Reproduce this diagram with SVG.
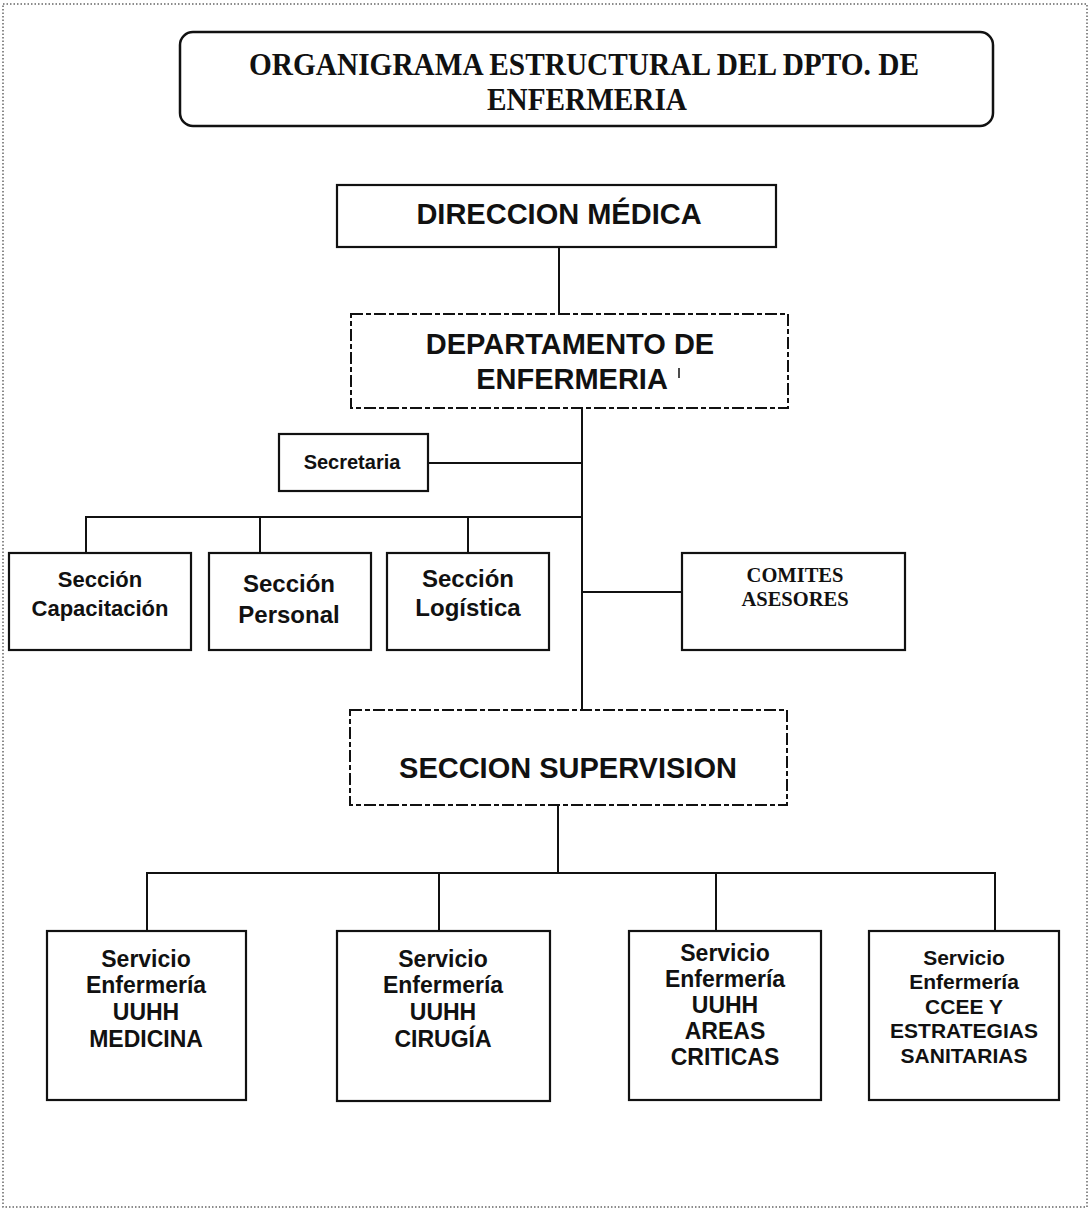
<svg xmlns="http://www.w3.org/2000/svg" width="1090" height="1212" viewBox="0 0 1090 1212">
<style>
.box{fill:#fff;stroke:#111;stroke-width:2.2}
.dbox{fill:#fff;stroke:#111;stroke-width:2;stroke-dasharray:12 3 5 3}
.conn{stroke:#111;stroke-width:2;fill:none}
.t{font-family:"Liberation Sans",Arial,sans-serif;font-weight:bold;fill:#111;text-anchor:middle}
.s{font-family:"Liberation Serif","Times New Roman",serif;font-weight:bold;fill:#111;text-anchor:middle}
</style>
<rect x="0" y="0" width="1090" height="1212" fill="#fff"/>
<rect x="3" y="4" width="1084" height="1203" fill="none" stroke="#666" stroke-width="1.5" stroke-dasharray="1.5 2"/>

<g id="title">
<rect x="180" y="32" width="813" height="94" rx="13" ry="13" fill="#fff" stroke="#111" stroke-width="2.5"/>
<text class="s" x="584" y="75" font-size="32" textLength="670" lengthAdjust="spacingAndGlyphs">ORGANIGRAMA ESTRUCTURAL  DEL DPTO. DE</text>
<text class="s" x="587" y="110" font-size="32" textLength="200" lengthAdjust="spacingAndGlyphs">ENFERMERIA</text>
</g>

<g id="connectors">
<line class="conn" x1="559" y1="247" x2="559" y2="314"/>
<line class="conn" x1="582" y1="408" x2="582" y2="710"/>
<line class="conn" x1="428" y1="463" x2="582" y2="463"/>
<polyline class="conn" points="86,553 86,517 582,517"/>
<line class="conn" x1="260" y1="517" x2="260" y2="553"/>
<line class="conn" x1="468" y1="517" x2="468" y2="553"/>
<line class="conn" x1="582" y1="592" x2="682" y2="592"/>
<line class="conn" x1="558" y1="805" x2="558" y2="873"/>
<polyline class="conn" points="147,931 147,873 995,873 995,931"/>
<line class="conn" x1="439" y1="873" x2="439" y2="931"/>
<line class="conn" x1="716" y1="873" x2="716" y2="931"/>
</g>

<g id="direccion">
<rect class="box" x="337" y="185" width="439" height="62"/>
<text class="t" x="559" y="224" font-size="29">DIRECCION MÉDICA</text>
</g>

<g id="departamento">
<rect class="dbox" x="351" y="314" width="437" height="94"/>
<text class="t" x="570" y="354" font-size="29">DEPARTAMENTO DE</text>
<text class="t" x="572" y="389" font-size="29">ENFERMERIA</text>
<line x1="679" y1="368" x2="679" y2="378" stroke="#111" stroke-width="1.5"/>
</g>

<g id="secretaria">
<rect class="box" x="279" y="434" width="149" height="57"/>
<text class="t" x="352" y="469" font-size="20">Secretaria</text>
</g>

<g id="capacitacion">
<rect class="box" x="9" y="553" width="182" height="97"/>
<text class="t" x="100" y="587" font-size="22">Sección</text>
<text class="t" x="100" y="616" font-size="22">Capacitación</text>
</g>

<g id="personal">
<rect class="box" x="209" y="553" width="162" height="97"/>
<text class="t" x="289" y="592" font-size="24">Sección</text>
<text class="t" x="289" y="623" font-size="24">Personal</text>
</g>

<g id="logistica">
<rect class="box" x="387" y="553" width="162" height="97"/>
<text class="t" x="468" y="587" font-size="24">Sección</text>
<text class="t" x="468" y="616" font-size="24">Logística</text>
</g>

<g id="comites">
<rect class="box" x="682" y="553" width="223" height="97"/>
<text class="s" x="795" y="582" font-size="20.5">COMITES</text>
<text class="s" x="795" y="606" font-size="20.5">ASESORES</text>
</g>

<g id="supervision">
<rect class="dbox" x="350" y="710" width="437" height="95"/>
<text class="t" x="568" y="778" font-size="29">SECCION SUPERVISION</text>
</g>

<g id="medicina">
<rect class="box" x="47" y="931" width="199" height="169"/>
<text class="t" x="146" y="967" font-size="23">Servicio</text>
<text class="t" x="146" y="993" font-size="23">Enfermería</text>
<text class="t" x="146" y="1020" font-size="23">UUHH</text>
<text class="t" x="146" y="1047" font-size="23">MEDICINA</text>
</g>

<g id="cirugia">
<rect class="box" x="337" y="931" width="213" height="170"/>
<text class="t" x="443" y="967" font-size="23">Servicio</text>
<text class="t" x="443" y="993" font-size="23">Enfermería</text>
<text class="t" x="443" y="1020" font-size="23">UUHH</text>
<text class="t" x="443" y="1047" font-size="23">CIRUGÍA</text>
</g>

<g id="areas">
<rect class="box" x="629" y="931" width="192" height="169"/>
<text class="t" x="725" y="961" font-size="23">Servicio</text>
<text class="t" x="725" y="987" font-size="23">Enfermería</text>
<text class="t" x="725" y="1013" font-size="23">UUHH</text>
<text class="t" x="725" y="1039" font-size="23">AREAS</text>
<text class="t" x="725" y="1065" font-size="23">CRITICAS</text>
</g>

<g id="ccee">
<rect class="box" x="869" y="931" width="190" height="169"/>
<text class="t" x="964" y="965" font-size="21">Servicio</text>
<text class="t" x="964" y="989" font-size="21">Enfermería</text>
<text class="t" x="964" y="1014" font-size="21">CCEE Y</text>
<text class="t" x="964" y="1038" font-size="21">ESTRATEGIAS</text>
<text class="t" x="964" y="1063" font-size="21">SANITARIAS</text>
</g>
</svg>
